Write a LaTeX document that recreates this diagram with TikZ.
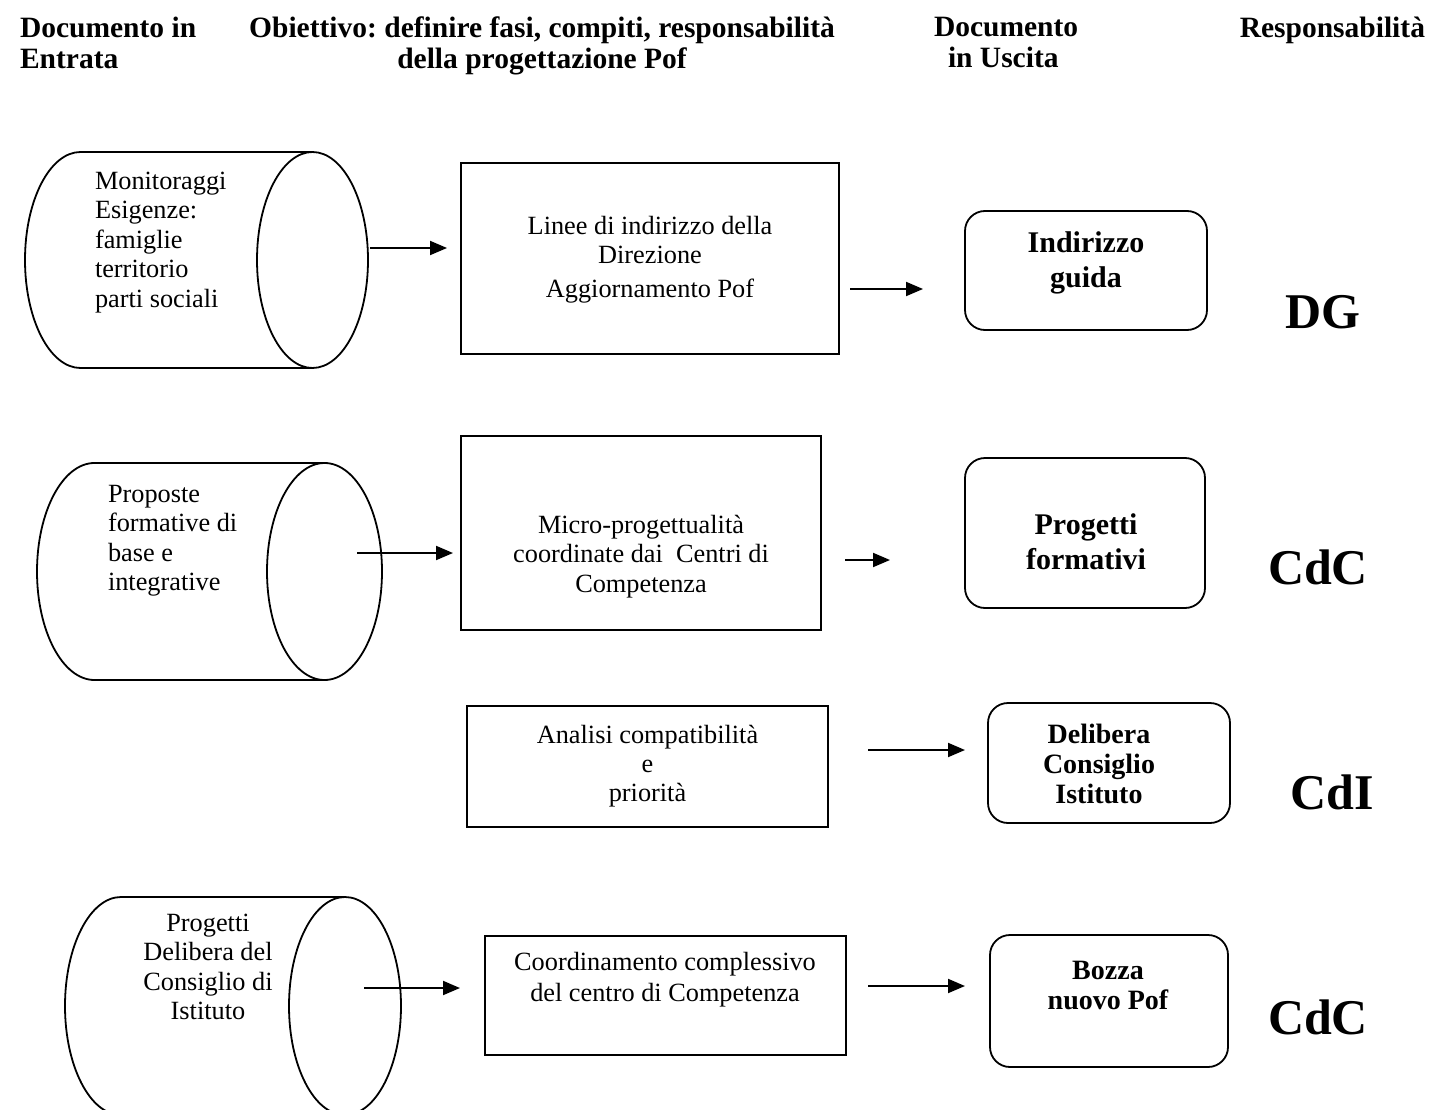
\documentclass[tikz,border=0pt]{standalone}
\usepackage{fontspec}
\setmainfont{Liberation Serif}
\frenchspacing
\usetikzlibrary{arrows.meta}
\tikzset{
  every node/.style={inner sep=0pt, outer sep=0pt},
  txt/.style={font=\fontsize{26.3}{29.5}\selectfont},
  hdr/.style={font=\fontsize{29.5}{31}\selectfont\bfseries},
  boxb/.style={font=\fontsize{30}{35}\selectfont\bfseries, align=center, anchor=north},
  boxc/.style={font=\fontsize{28}{30}\selectfont\bfseries, align=center, anchor=north},
  resp/.style={font=\fontsize{50}{54}\selectfont\bfseries, anchor=base},
  shp/.style={draw, line width=1.8pt},
  arr/.style={line width=1.9pt, -{Triangle[length=17pt,width=14pt]}},
}
% cylinder: left-centre x, right-centre x, centre y, x radius, y radius
\newcommand\drawcyl[5]{%
  \draw[shp] (#1,#3-#5) -- (#2,#3-#5)
    (#1,#3+#5) -- (#2,#3+#5)
    (#1,#3-#5) arc[start angle=270, end angle=90, x radius=#4, y radius=#5]
    (#2,#3) ellipse[x radius=#4, y radius=#5];
}
\begin{document}
\begin{tikzpicture}[x=1pt,y=-1pt]
\fill[white] (0,0) rectangle (1429,1110);
\useasboundingbox (0,0) rectangle (1429,1110);
\begin{scope}
\clip (0,0) rectangle (1429,1110);

% headers
\node[hdr, align=left, anchor=north west] (h1) at (20,17) {Documento in\\Entrata};
\node[hdr, align=center, anchor=north] (h2) at (542,17) {Obiettivo: definire fasi, compiti, responsabilità\\della progettazione Pof};
\node[hdr, align=left, anchor=north west] (h3) at (934,17) {Documento\\\hspace*{14pt}in Uscita};
\node[hdr, anchor=north east] (h4) at (1425,17) {Responsabilità};

% row 1
\drawcyl{80.5}{312.5}{260}{55.5}{108}
\node[txt, align=left, anchor=north west] (c1) at (95,172) {Monitoraggi\\Esigenze:\\famiglie\\territorio\\parti sociali};
\draw[shp] (461,163) rectangle (839,354);
\node[txt, align=center, anchor=north] (b1) at (650,216) {Linee di indirizzo della\\Direzione\\[4pt]Aggiornamento Pof};
\draw[shp, rounded corners=20pt] (965,211) rectangle (1207,330);
\node[boxb] (r1) at (1086,232) {Indirizzo\\guida};
\node[resp] (p1) at (1323,328) {DG};
\coordinate (a1s) at (370,248); \coordinate (a1e) at (447,248);
\coordinate (a2s) at (850,289); \coordinate (a2e) at (923,289);
\draw[arr] (a1s) -- (a1e);
\draw[arr] (a2s) -- (a2e);

% row 2
\drawcyl{94.5}{324.5}{571.5}{57.5}{108.5}
\node[txt, align=left, anchor=north west] (c2) at (108,485) {Proposte\\formative di\\base e\\integrative};
\draw[shp] (461,436) rectangle (821,630);
\node[txt, align=center, anchor=north] (b2) at (641,515) {Micro-progettualità\\coordinate dai~ Centri di\\Competenza};
\draw[shp, rounded corners=20pt] (965,458) rectangle (1205,608);
\node[boxb] (r2) at (1086,514) {Progetti\\formativi};
\node[resp] (p2) at (1318,584) {CdC};
\coordinate (a3s) at (357,553); \coordinate (a3e) at (453,553);
\coordinate (a4s) at (845,560); \coordinate (a4e) at (890,560);
\draw[arr] (a3s) -- (a3e);
\draw[arr] (a4s) -- (a4e);

% row 3
\draw[shp] (467,706) rectangle (828,827);
\node[txt, align=center, anchor=north, font=\fontsize{26.3}{29}\selectfont] (b3) at (647.5,725) {Analisi compatibilità\\e\\priorità};
\draw[shp, rounded corners=20pt] (988,703) rectangle (1230,823);
\node[boxc] (r3) at (1099,724) {Delibera\\Consiglio\\Istituto};
\node[resp] (p3) at (1332,809) {CdI};
\coordinate (a5s) at (868,750); \coordinate (a5e) at (965,750);
\draw[arr] (a5s) -- (a5e);

% row 4
\drawcyl{121}{345}{1006}{56}{109}
\node[txt, align=center, anchor=north] (c3) at (208,914) {Progetti\\Delibera del\\Consiglio di\\Istituto};
\draw[shp] (485,936) rectangle (846,1055);
\node[txt, align=center, anchor=north, font=\fontsize{26.3}{31}\selectfont] (b4) at (665,952) {Coordinamento complessivo\\del centro di Competenza};
\draw[shp, rounded corners=20pt] (990,935) rectangle (1228,1067);
\node[boxc] (r4) at (1108,961) {Bozza\\nuovo Pof};
\node[resp] (p4) at (1318,1034) {CdC};
\coordinate (a6s) at (364,988); \coordinate (a6e) at (460,988);
\coordinate (a7s) at (868,986); \coordinate (a7e) at (965,986);
\draw[arr] (a6s) -- (a6e);
\draw[arr] (a7s) -- (a7e);
\end{scope}
\end{tikzpicture}
\end{document}
